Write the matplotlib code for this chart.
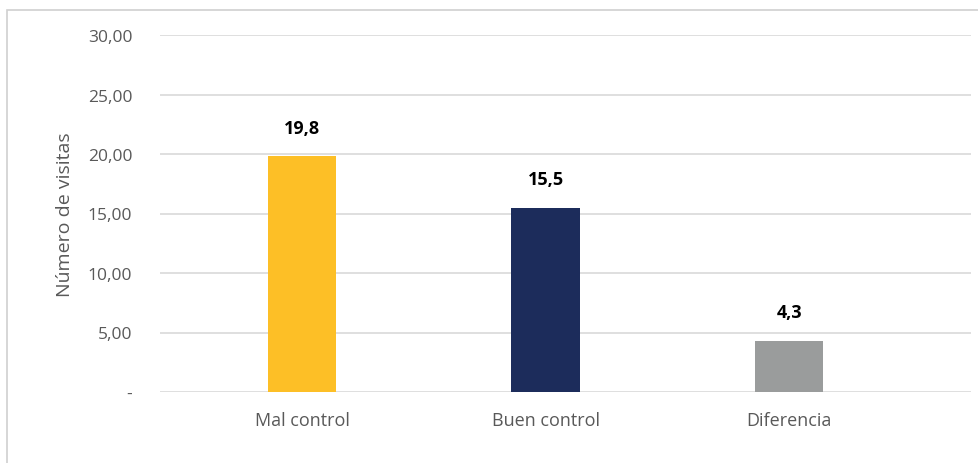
import matplotlib
matplotlib.use("Agg")
import matplotlib.pyplot as plt
from matplotlib.patches import Rectangle

categories = ["Mal control", "Buen control", "Diferencia"]
values = [19.8, 15.5, 4.3]
labels = ["19,8", "15,5", "4,3"]
colors = ["#FDBF26", "#1C2C5B", "#9A9C9C"]
yticks = [0, 5, 10, 15, 20, 25, 30]
ytick_labels = ["-", "5,00", "10,00", "15,00", "20,00", "25,00", "30,00"]

W, H = 979, 464
fig = plt.figure(figsize=(W / 100, H / 100), dpi=100)
plt.rcParams['font.family'] = ['Open Sans', 'DejaVu Sans']

# outer border
fig.patches.append(Rectangle((7 / W, -0.1), 1.2, (H - 11) / H + 0.1, transform=fig.transFigure,
                             fill=False, edgecolor="#D0D0D0", linewidth=1.2))

ax = fig.add_axes([160 / W, 1 - 393 / H, (971 - 160) / W, (393 - 36) / H])
x = list(range(len(categories)))
ax.bar(x, values, width=0.28, color=colors, zorder=3)
for xi, v, lab in zip(x, values, labels):
    ax.annotate(lab, (xi, v), xytext=(0, 14), textcoords="offset points",
                ha="center", va="bottom", fontsize=13, fontweight="bold", color="#000000")

ax.set_ylim(0, 30)
ax.set_xlim(-0.583, 2.747)
ax.set_yticks(yticks)
ax.set_yticklabels(ytick_labels, fontsize=12.5, color="#595959")
ax.set_xticks(x)
ax.set_xticklabels(categories, fontsize=13, color="#595959")
ax.tick_params(axis="y", length=0, pad=20)
ax.tick_params(axis="x", length=0, pad=14)
ax.yaxis.grid(True, color="#D9D9D9", linewidth=1.2, zorder=0)
for s in ax.spines.values():
    s.set_visible(False)
ax.set_ylabel("Número de visitas", fontsize=14, color="#595959", labelpad=10)

fig.savefig("out.png", dpi=100)
